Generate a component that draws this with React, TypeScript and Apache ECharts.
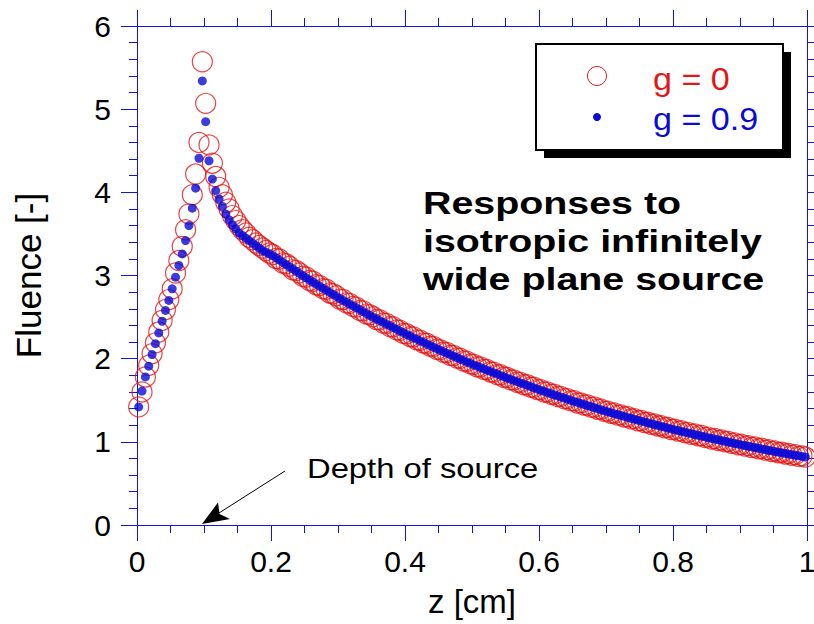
import React, { useEffect, useRef } from "react";
import * as echarts from "echarts";

// sampling grid of the depth axis (bin centres)
const Z_START = 0.0025;
const Z_STEP = 0.005;

// Fluence, g = 0 (red open circles)
const fluenceG0: number[] = [
  1.42, 1.60, 1.78, 1.92, 2.06, 2.19, 2.32, 2.46, 2.59, 2.71,
  2.84, 3.03, 3.18, 3.35, 3.55, 3.74, 3.97, 4.22, 4.60, 5.57,
  5.07, 4.57, 4.35, 4.19, 4.06, 3.97, 3.88, 3.80, 3.72, 3.66,
  3.60, 3.55, 3.51, 3.46, 3.43, 3.39, 3.36, 3.33, 3.30, 3.27,
  3.252, 3.205, 3.198, 3.150, 3.141, 3.112, 3.068, 3.060, 3.031, 2.990,
  2.982, 2.940, 2.931, 2.889, 2.880, 2.842, 2.835, 2.790, 2.781, 2.757,
  2.716, 2.712, 2.671, 2.665, 2.628, 2.620, 2.580, 2.575, 2.536, 2.530,
  2.505, 2.470, 2.466, 2.428, 2.424, 2.386, 2.383, 2.346, 2.341, 2.304,
  2.299, 2.265, 2.261, 2.226, 2.222, 2.189, 2.185, 2.150, 2.147, 2.113,
  2.108, 2.077, 2.074, 2.041, 2.038, 2.007, 2.004, 1.971, 1.968, 1.937,
  1.933, 1.903, 1.901, 1.871, 1.869, 1.840, 1.838, 1.808, 1.806, 1.776,
  1.774, 1.745, 1.745, 1.716, 1.715, 1.687, 1.686, 1.657, 1.656, 1.628,
  1.627, 1.600, 1.600, 1.573, 1.573, 1.546, 1.547, 1.519, 1.520, 1.492,
  1.493, 1.467, 1.468, 1.442, 1.443, 1.417, 1.419, 1.392, 1.394, 1.367,
  1.369, 1.344, 1.346, 1.321, 1.324, 1.299, 1.301, 1.276, 1.279, 1.253,
  1.256, 1.232, 1.235, 1.211, 1.214, 1.190, 1.194, 1.169, 1.173, 1.148,
  1.152, 1.129, 1.133, 1.110, 1.114, 1.091, 1.095, 1.072, 1.076, 1.053,
  1.057, 1.034, 1.040, 1.017, 1.022, 1.000, 1.005, 0.982, 0.987, 0.965,
  0.970, 0.948, 0.954, 0.932, 0.938, 0.916, 0.922, 0.900, 0.906, 0.884,
  0.890, 0.869, 0.875, 0.854, 0.861, 0.839, 0.846, 0.825, 0.831, 0.817,
];

// Fluence, g = 0.9 (blue dots)
const fluenceG09: number[] = [
  1.42, 1.61, 1.78, 1.91, 2.05, 2.18, 2.31, 2.45, 2.58, 2.70,
  2.84, 2.98, 3.12, 3.26, 3.42, 3.60, 3.81, 4.05, 4.41, 5.34,
  4.85, 4.38, 4.16, 4.02, 3.92, 3.83, 3.74, 3.67, 3.61, 3.56,
  3.51, 3.48, 3.45, 3.42, 3.39, 3.36, 3.33, 3.30, 3.28, 3.26,
  3.240, 3.213, 3.186, 3.159, 3.132, 3.105, 3.079, 3.052, 3.025, 2.998,
  2.971, 2.946, 2.922, 2.897, 2.872, 2.848, 2.823, 2.798, 2.773, 2.749,
  2.724, 2.701, 2.679, 2.656, 2.634, 2.611, 2.588, 2.566, 2.543, 2.521,
  2.498, 2.477, 2.457, 2.436, 2.415, 2.395, 2.374, 2.353, 2.332, 2.312,
  2.291, 2.272, 2.253, 2.234, 2.215, 2.196, 2.177, 2.158, 2.139, 2.120,
  2.101, 2.084, 2.066, 2.049, 2.031, 2.014, 1.996, 1.979, 1.961, 1.944,
  1.926, 1.910, 1.894, 1.878, 1.862, 1.847, 1.831, 1.815, 1.799, 1.783,
  1.767, 1.752, 1.738, 1.723, 1.708, 1.694, 1.679, 1.664, 1.649, 1.635,
  1.620, 1.607, 1.593, 1.580, 1.566, 1.553, 1.540, 1.526, 1.513, 1.499,
  1.486, 1.474, 1.461, 1.449, 1.436, 1.424, 1.412, 1.399, 1.387, 1.374,
  1.362, 1.351, 1.339, 1.328, 1.317, 1.306, 1.294, 1.283, 1.272, 1.260,
  1.249, 1.239, 1.228, 1.218, 1.207, 1.197, 1.187, 1.176, 1.166, 1.155,
  1.145, 1.136, 1.126, 1.117, 1.107, 1.098, 1.088, 1.079, 1.069, 1.060,
  1.050, 1.041, 1.033, 1.024, 1.015, 1.007, 0.998, 0.989, 0.980, 0.972,
  0.963, 0.955, 0.947, 0.939, 0.931, 0.923, 0.915, 0.907, 0.899, 0.891,
  0.883, 0.876, 0.868, 0.861, 0.854, 0.846, 0.839, 0.832, 0.824, 0.817,
];

const seriesNames = ["g = 0", "g = 0.9"];
const noteLines = ["Responses to", "isotropic infinitely", "wide plane source"];
const sourceNote = "Depth of source";
const SOURCE_DEPTH = 0.1;
const X_RANGE = [0, 1];
const Y_RANGE = [0, 6];

const RED = "#e31616";
const BLUE = "#0a0ad6";
const AXIS = "#1414e0";
const FONT = "'Liberation Sans', Arial, Helvetica, sans-serif";

function toPairs(values: number[]): number[][] {
  return values.map((v, i) => [Z_START + i * Z_STEP, v]);
}

export default function App() {
  const ref = useRef<HTMLDivElement | null>(null);

  useEffect(() => {
    if (!ref.current) return;
    const chart = echarts.init(ref.current, undefined, { renderer: "svg" });

    const axisLine = { show: true, onZero: false, lineStyle: { color: AXIS, width: 1 } };
    const tick = { show: true, inside: false, length: 16, lineStyle: { color: AXIS, width: 1 } };

    chart.setOption({
      animation: false,
      backgroundColor: "#ffffff",
      grid: { left: 137, right: 7, top: 26, bottom: 99, containLabel: false, outerBoundsMode: "none" },
      xAxis: [
        {
          type: "value", position: "bottom", min: X_RANGE[0], max: X_RANGE[1], interval: 0.2,
          name: "z [cm]", nameLocation: "middle", nameGap: 60,
          nameTextStyle: { fontSize: 33, color: "#000", fontFamily: FONT },
          axisLine, axisTick: tick,
          minorTick: { show: true, splitNumber: 4, length: 8, lineStyle: { color: AXIS, width: 1 } },
          splitLine: { show: false }, minorSplitLine: { show: false },
          axisLabel: { fontSize: 30, color: "#000", fontFamily: FONT, margin: 21 },
        },
        {
          type: "value", position: "top", min: X_RANGE[0], max: X_RANGE[1], interval: 0.2,
          axisLine, axisTick: tick,
          minorTick: { show: true, splitNumber: 4, length: 8, lineStyle: { color: AXIS, width: 1 } },
          splitLine: { show: false }, axisLabel: { show: false },
        },
      ],
      yAxis: [
        {
          type: "value", position: "left", min: Y_RANGE[0], max: Y_RANGE[1], interval: 1,
          name: "Fluence [-]", nameLocation: "middle", nameGap: 91, nameRotate: 90,
          nameTextStyle: { fontSize: 35, color: "#000", fontFamily: FONT },
          axisLine, axisTick: tick,
          minorTick: { show: true, splitNumber: 5, length: 8, lineStyle: { color: AXIS, width: 1 } },
          splitLine: { show: false }, minorSplitLine: { show: false },
          axisLabel: { fontSize: 30, color: "#000", fontFamily: FONT, margin: 26 },
        },
        {
          type: "value", position: "right", min: Y_RANGE[0], max: Y_RANGE[1], interval: 1,
          axisLine, axisTick: { ...tick, length: 8 },
          minorTick: { show: true, splitNumber: 5, length: 7, lineStyle: { color: AXIS, width: 1 } },
          splitLine: { show: false }, axisLabel: { show: false },
        },
      ],
      series: [
        {
          type: "scatter", name: seriesNames[0], data: toPairs(fluenceG0),
          xAxisIndex: 0, yAxisIndex: 0, symbol: "circle", symbolSize: 20, clip: false,
          itemStyle: { color: "rgba(0,0,0,0)", borderColor: RED, borderWidth: 1.2 }, z: 2,
        },
        {
          type: "scatter", name: seriesNames[1], data: toPairs(fluenceG09),
          xAxisIndex: 0, yAxisIndex: 0, symbol: "circle", symbolSize: 9, clip: false,
          itemStyle: { color: BLUE }, z: 3,
        },
      ],
    });

    const tip = chart.convertToPixel({ xAxisIndex: 0, yAxisIndex: 0 }, [SOURCE_DEPTH, 0]) as number[];
    const tx = tip[0] - 2;
    const ty = tip[1] - 1;

    const textBase = { fontFamily: FONT, verticalAlign: "middle", align: "left" };

    chart.setOption({
      graphic: {
        elements: [
          // legend box with hard shadow
          { type: "rect", z: 10, shape: { x: 544, y: 52, width: 247, height: 106 }, style: { fill: "#000" } },
          { type: "rect", z: 11, shape: { x: 536, y: 44, width: 247, height: 106 }, style: { fill: "#fff", stroke: "#000", lineWidth: 2 } },
          { type: "circle", z: 12, shape: { cx: 597, cy: 76, r: 9.5 }, style: { fill: "none", stroke: RED, lineWidth: 1 } },
          { type: "text", z: 12, x: 653, y: 80, scaleX: 1.1, style: { ...textBase, text: seriesNames[0], fill: RED, fontSize: 31 } },
          { type: "circle", z: 12, shape: { cx: 597, cy: 117, r: 4 }, style: { fill: BLUE } },
          { type: "text", z: 12, x: 653, y: 120, scaleX: 1.1, style: { ...textBase, text: seriesNames[1], fill: BLUE, fontSize: 31 } },
          // note
          ...noteLines.map((t, i) => ({
            type: "text", z: 12, x: 423, y: 204 + i * 38, scaleX: 1.27,
            style: { ...textBase, text: t, fill: "#000", fontSize: 31, fontWeight: "bold" },
          })),
          // depth of source annotation
          { type: "text", z: 12, x: 307, y: 468, scaleX: 1.17, style: { ...textBase, text: sourceNote, fill: "#000", fontSize: 28 } },
          { type: "line", z: 12, shape: { x1: tx + 83, y1: ty - 53, x2: tx + 17, y2: ty - 11 }, style: { stroke: "#000", lineWidth: 1 } },
          {
            type: "polygon", z: 12,
            shape: { points: [[tx, ty], [tx + 16, ty - 21.5], [tx + 17.5, ty - 10], [tx + 28, ty - 5]] },
            style: { fill: "#000" },
          },
        ],
      },
    });

    return () => chart.dispose();
  }, []);

  return <div ref={ref} style={{ position: "absolute", left: 0, top: 0, width: 814, height: 624 }} />;
}
